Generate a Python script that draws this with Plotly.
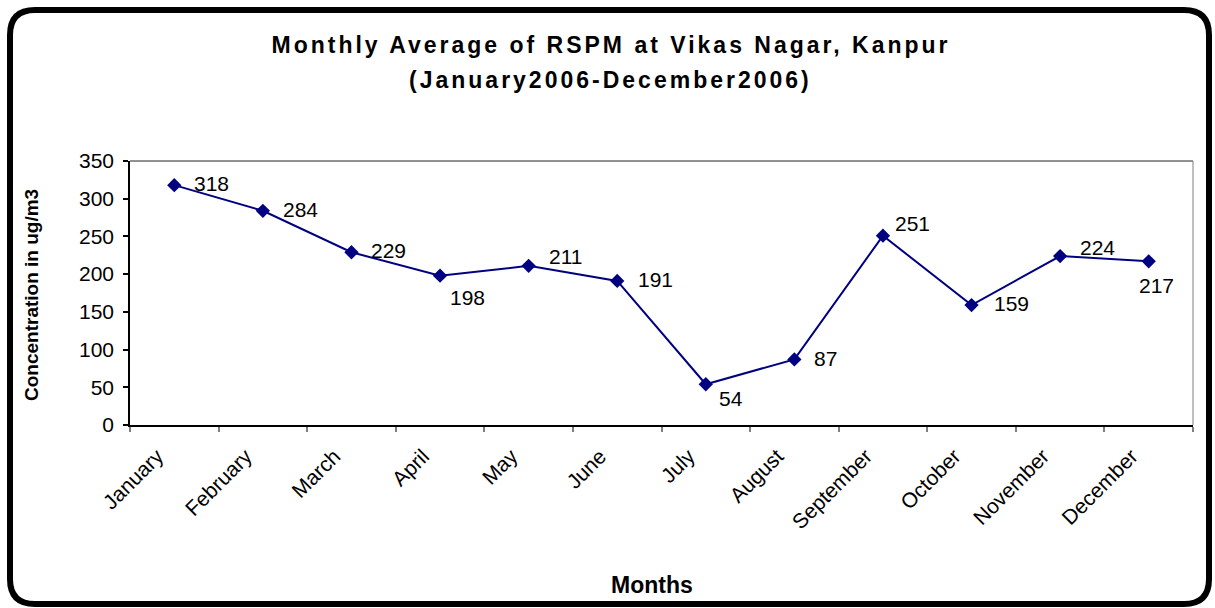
import plotly.graph_objects as go

# ---- data ----
months = ["January", "February", "March", "April", "May", "June",
          "July", "August", "September", "October", "November", "December"]
rspm = [318, 284, 229, 198, 211, 191, 54, 87, 251, 159, 224, 217]
y_ticks = [0, 50, 100, 150, 200, 250, 300, 350]

title_line1 = "Monthly Average of RSPM at Vikas Nagar, Kanpur"
title_line2 = "(January2006-December2006)"
y_title = "Concentration in ug/m3"
x_title = "Months"

# ---- label placement styles (xanchor, xshift px, yshift px) ----
label_style = [("left", 18, 2), ("left", 18, 1), ("left", 18, 2), ("left", 8, -22),
               ("left", 18, 9), ("left", 19, 1), ("left", 11, -14), ("left", 18, 1),
               ("left", 10, 12), ("left", 20, 2), ("left", 18, 9), ("center", 8, -24)]

FONT = "Arial, Liberation Sans, Helvetica, sans-serif"
NAVY = "#000080"

# plot area in pixels
L, R, T, B = 130, 1193, 161, 425
W, H = R - L, B - T
def px(x): return (x - L) / W
def py(y): return (B - y) / H

fig = go.Figure()
fig.add_trace(go.Scatter(
    x=months, y=rspm, mode="lines+markers",
    line=dict(color=NAVY, width=2),
    marker=dict(symbol="diamond", size=11, color=NAVY),
    hoverinfo="x+y", showlegend=False,
))

annotations = []
# second title line (index 0)
annotations.append(dict(text="<b>" + title_line2 + "</b>", xref="paper", yref="paper",
                        x=px(610), y=py(80), xanchor="center", yanchor="middle",
                        showarrow=False, font=dict(family=FONT, size=23, color="black")))
for m, v, (xa, dx, dy) in zip(months, rspm, label_style):
    annotations.append(dict(text=str(v), x=m, y=v, xref="x", yref="y",
                            xanchor=xa, yanchor="middle", xshift=dx, yshift=dy,
                            showarrow=False, font=dict(family=FONT, size=21, color="black")))
annotations.append(dict(text="<b>" + y_title + "</b>", xref="paper", yref="paper",
                        x=px(31), y=py(295), xanchor="center", yanchor="middle",
                        textangle=-90, showarrow=False,
                        font=dict(family=FONT, size=19, color="black")))
annotations.append(dict(text="<b>" + x_title + "</b>", xref="paper", yref="paper",
                        x=px(652), y=py(585), xanchor="center", yanchor="middle",
                        showarrow=False, font=dict(family=FONT, size=23, color="black")))

# rounded outer frame
x0, x1, y0, y1, r = 10, 1209, 10, 604, 25
pts = [
    ("M", (x0 + r, y0)), ("L", (x1 - r, y0)), ("Q", (x1, y0), (x1, y0 + r)),
    ("L", (x1, y1 - r)), ("Q", (x1, y1), (x1 - r, y1)), ("L", (x0 + r, y1)),
    ("Q", (x0, y1), (x0, y1 - r)), ("L", (x0, y0 + r)), ("Q", (x0, y0), (x0 + r, y0)),
]
path = ""
for item in pts:
    cmd = item[0]
    path += cmd + " " + " ".join(f"{px(a):.6f},{py(b):.6f}" for a, b in item[1:]) + " "
path += "Z"

shapes = [
    dict(type="path", path=path, xref="paper", yref="paper",
         line=dict(color="black", width=6), layer="below"),
    dict(type="line", xref="paper", yref="paper", x0=0, x1=1, y0=1, y1=1,
         line=dict(color="#222222", width=1)),
    dict(type="line", xref="paper", yref="paper", x0=1, x1=1, y0=0, y1=1,
         line=dict(color="#808080", width=1)),
]

fig.update_layout(
    width=1215, height=608,
    margin=dict(l=L, r=1215 - R, t=T, b=608 - B, autoexpand=False),
    paper_bgcolor="white", plot_bgcolor="white",
    font=dict(family=FONT, color="black"),
    title=dict(text="<b>" + title_line1 + "</b>", x=px(611), xanchor="center",
               xref="paper", y=1 - 45 / 608, yanchor="middle", yref="container",
               font=dict(family=FONT, size=23, color="black")),
    annotations=annotations,
    shapes=shapes,
)
fig.update_xaxes(
    type="category", range=[-0.5, len(months) - 0.5], autorange=False,
    showgrid=False, zeroline=False,
    showline=True, linecolor="black", linewidth=1.5,
    ticks="outside", tickson="boundaries", ticklen=5, tickcolor="#808080", tickwidth=1.5,
    tickangle=-45, tickfont=dict(family=FONT, size=21, color="black"),
    ticklabelstandoff=9, ticklabelshift=-17,
)
fig.update_yaxes(
    range=[0, 350], tickvals=y_ticks, showgrid=False, zeroline=False,
    showline=True, linecolor="black", linewidth=1.5,
    ticks="outside", ticklen=5, tickcolor="black", tickwidth=1.5,
    tickfont=dict(family=FONT, size=21, color="black"),
    ticklabelstandoff=5,
)

post = """
document.body.style.margin = '0';
document.body.style.overflow = 'hidden';
document.querySelectorAll('.gtitle').forEach(function(e){e.style.letterSpacing='3px';});
document.querySelectorAll('.annotation[data-index="0"] text').forEach(function(e){e.style.letterSpacing='3px';});
"""
fig.write_html("out.html", post_script=post, config={"displayModeBar": False})
